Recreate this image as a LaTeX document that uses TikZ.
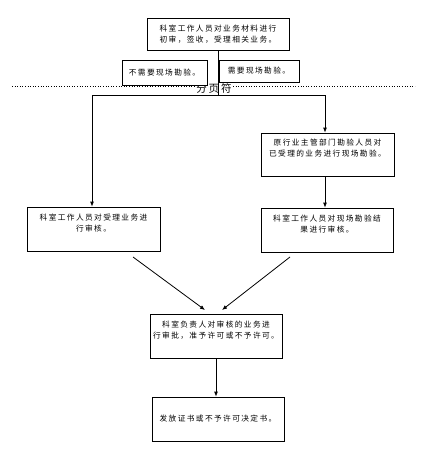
\documentclass[tikz,border=0pt]{standalone}
\usepackage{fontspec}
\newfontfamily\cjk[LetterSpace=18]{Noto Sans CJK SC}
\usetikzlibrary{arrows.meta}
\tikzset{
  box/.style={draw, fill=white, line width=0.8pt, font=\cjk\fontsize{7.7}{11}\selectfont, align=center, inner sep=0pt},
  flowline/.style={line width=0.8pt},
  >={Latex[length=5pt,width=4pt]}
}
\begin{document}
\begin{tikzpicture}[x=1pt,y=-1pt]
        \useasboundingbox (0,0) rectangle (440,471);
        % Page break line
        \draw[dotted, line width=0.6pt] (12,86) -- (415,86);
        \node[font=\cjk\fontsize{10.5}{12}\selectfont, fill=white, inner sep=0.5pt] (pagebreak) at (214,89) {分页符};

        % Define nodes
        \node[box, minimum width=142pt, minimum height=32pt] (accept) at (218,34) {科室工作人员对业务材料进行\\初审，签收，受理相关业务。};
        \node[box, minimum width=85pt, minimum height=25pt] (noinspect) at (164.5,72.5) {不需要现场勘验。};
        \node[box, minimum width=80pt, minimum height=22pt] (inspect) at (259,71) {需要现场勘验。};
        \node[box, minimum width=133pt, minimum height=43pt, text depth=13pt] (survey) at (327.5,154.5) {原行业主管部门勘验人员对\\已受理的业务进行现场勘验。};
        \node[box, minimum width=132pt, minimum height=44pt, text depth=13pt] (surveycheck) at (327,230) {科室工作人员对现场勘验结\\果进行审核。};
        \node[box, minimum width=133pt, minimum height=44pt, text depth=13pt] (review) at (93.5,229) {科室工作人员对受理业务进\\行审核。};
        \node[box, minimum width=132pt, minimum height=44pt, text depth=13pt] (approve) at (216,336) {科室负责人对审核的业务进\\行审批，准予许可或不予许可。};
        \node[box, minimum width=132pt, minimum height=44pt] (issue) at (218,419) {发放证书或不予许可决定书。};

        % Split and merge points
        \coordinate (split) at (218,95);
        \coordinate (splitL) at (92,95);
        \coordinate (splitR) at (325,95);
        \coordinate (mergeL) at (133,257);
        \coordinate (mergeR) at (290,257);
        \coordinate (inL) at (205,310);
        \coordinate (inR) at (222,310);

        % Draw directed edges
        \draw[flowline] (accept.south) -- (split);
        \draw[flowline] (splitL) -- (splitR);
        \draw[flowline, ->] (splitL) -- (splitL |- review.north);
        \draw[flowline, ->] (splitR) -- (splitR |- survey.north);
        \draw[flowline, ->] (splitR |- survey.south) -- (splitR |- surveycheck.north);
        \draw[flowline, ->] (mergeL) -- (inL);
        \draw[flowline, ->] (mergeR) -- (inR);
        \draw[flowline, ->] (approve.south) -- (approve.south |- issue.north);
    \end{tikzpicture}
\end{document}
